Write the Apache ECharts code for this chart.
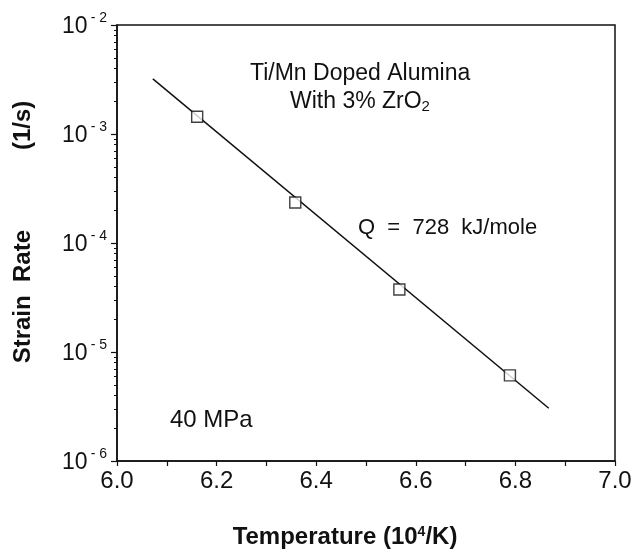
<!DOCTYPE html>
<html>
<head>
<meta charset="utf-8">
<script src="https://cdn.jsdelivr.net/npm/echarts@6/dist/echarts.min.js"></script>
<style>
html, body { margin: 0; padding: 0; background: #fff; }
#main { width: 635px; height: 554px; }
</style>
</head>
<body>
<div id="main"></div>
<script>
// measured points (1e4/T, strain rate)
var tempInv = [6.161, 6.358, 6.567, 6.789];
var strainRate = [1.44e-3, 2.35e-4, 3.75e-5, 6.1e-6];
// fitted line ends
var fitX = [6.072, 6.867];
var fitY = [3.2e-3, 3.05e-6];
// axis ticks
var xTicks = [6.0, 6.2, 6.4, 6.6, 6.8, 7.0];
var yDecades = [1e-6, 1e-5, 1e-4, 1e-3, 1e-2];
var yMinor = [];
for (var d = 0; d < yDecades.length - 1; d++) {
    for (var m = 2; m <= 9; m++) {
        yMinor.push(m * yDecades[d]);
    }
}

var font = 'Liberation Sans, Arial, Helvetica, sans-serif';
var chart = echarts.init(document.getElementById('main'));

var option = {
    backgroundColor: '#fff',
    animation: false,
    grid: {
        left: 117, top: 25, right: 20, bottom: 92,
        show: true, borderColor: '#111', borderWidth: 1.5, backgroundColor: 'transparent'
    },
    xAxis: {
        type: 'value',
        min: xTicks[0],
        max: xTicks[xTicks.length - 1],
        interval: 0.2,
        name: 'Temperature (10{s|4}/K)',
        nameLocation: 'middle',
        nameGap: 64,
        nameTextStyle: {
            fontFamily: font, fontSize: 24, fontWeight: 'bold', color: '#111',
            padding: [0, 42, 0, 0],
            rich: { s: { fontSize: 14, fontWeight: 'bold', verticalAlign: 'top', padding: [0, 0, 10, 0], fontFamily: font } }
        },
        axisLine: { lineStyle: { color: '#111', width: 1.5 } },
        axisTick: { show: true, length: 5, inside: false, lineStyle: { color: '#111', width: 1.2 } },
        minorTick: { show: true, splitNumber: 2, length: 5, lineStyle: { color: '#111', width: 1.2 } },
        splitLine: { show: false },
        axisLabel: {
            fontFamily: font, fontSize: 24, color: '#111', margin: 8,
            formatter: function (v) { return v.toFixed(1); }
        }
    },
    yAxis: [
        {
            type: 'log',
            logBase: 10,
            min: yDecades[0],
            max: yDecades[yDecades.length - 1],
            name: 'Strain  Rate            (1/s)',
            nameLocation: 'middle',
            nameGap: 82,
            nameTextStyle: { fontFamily: font, fontSize: 24, fontWeight: 'bold', color: '#111', padding: [0, 0, 0, 22] },
            axisLine: { lineStyle: { color: '#111', width: 1.5 } },
            axisTick: { show: true, length: 6, inside: false, lineStyle: { color: '#111', width: 1.2 } },
            splitLine: { show: false },
            axisLabel: {
                margin: 10,
                formatter: function (v) {
                    var e = Math.round(Math.log10(v));
                    return '{b|10}{s|- ' + Math.abs(e) + '}';
                },
                rich: {
                    b: { fontFamily: font, fontSize: 23, color: '#111', padding: [4, 0, 0, 0] },
                    s: { fontFamily: font, fontSize: 14, color: '#111', verticalAlign: 'top', padding: [0, 0, 12, 3] }
                }
            }
        },
        {
            type: 'log',
            logBase: 10,
            min: yDecades[0],
            max: yDecades[yDecades.length - 1],
            position: 'left',
            axisLine: { show: false },
            axisLabel: { show: false },
            splitLine: { show: false },
            axisTick: { show: true, length: 3, inside: false, customValues: yMinor, lineStyle: { color: '#111', width: 1 } }
        }
    ],
    graphic: [
        { type: 'text', left: 250, top: 62, style: { text: 'Ti/Mn Doped Alumina', font: '23px ' + font, fill: '#111' } },
        { type: 'text', left: 290, top: 90, style: { text: 'With 3% ZrO{s|2}', font: '23px ' + font, fill: '#111',
            rich: { s: { font: '15px ' + font, fill: '#111', verticalAlign: 'bottom', padding: [10, 0, 0, 0] } } } },
        { type: 'text', left: 358, top: 217, style: { text: 'Q  =  728  kJ/mole', font: '22px ' + font, fill: '#111' } },
        { type: 'text', left: 170, top: 408, style: { text: '40 MPa', font: '24px ' + font, fill: '#111' } }
    ],
    series: [
        {
            type: 'line',
            data: [[fitX[0], fitY[0]], [fitX[1], fitY[1]]],
            showSymbol: false,
            lineStyle: { color: '#111', width: 1.5 },
            silent: true
        },
        {
            type: 'scatter',
            data: tempInv.map(function (x, i) { return [x, strainRate[i]]; }),
            symbol: 'rect',
            symbolSize: 11,
            itemStyle: { color: '#fff', borderColor: '#111', borderWidth: 1.4 },
            z: 5
        }
    ]
};
chart.setOption(option);
</script>
</body>
</html>
